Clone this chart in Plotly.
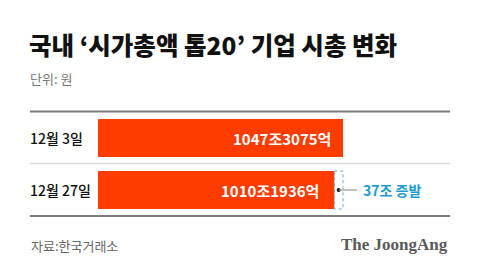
import plotly.graph_objects as go

categories = ["12월 3일", "12월 27일"]
values = [1047.3075, 1010.1936]
value_labels = ["1047조3075억", "1010조1936억"]
change_label = "37조 증발"
title_text = "국내 ‘시가총액 톱20’ 기업 시총 변화"
unit_text = "단위: 원"
source_text = "자료:한국거래소"
brand_text = "The JoongAng"

W, H = 480, 271
KR = "Noto Sans CJK KR"
BAR = "#FF3C00"

x0_px = 98.0
scale = (343.0 - 98.0) / values[0]
xr = [-x0_px / scale, (W - x0_px) / scale]
ppu = 52.0
ytop = -138.0 / ppu
yr = [ytop + H / ppu, ytop]
bw = 38.0 / ppu
label_pad_px = [10, 13]

fig = go.Figure()
fig.add_trace(go.Bar(
    x=values, y=[0, 1], orientation="h", width=bw,
    marker=dict(color=BAR, line=dict(width=0)),
    hoverinfo="skip",
))

def px(xp):
    return xp / W

def py(yp):
    return 1 - yp / H

shapes = []
shapes.append(dict(type="line", xref="paper", yref="paper", x0=px(30), x1=px(450), y0=py(111.5), y1=py(111.5), line=dict(color="#7a7a7a", width=2)))
shapes.append(dict(type="line", xref="paper", yref="paper", x0=px(30), x1=px(450), y0=py(163.5), y1=py(163.5), line=dict(color="#dcdcdc", width=1.5)))
shapes.append(dict(type="line", xref="paper", yref="paper", x0=px(30), x1=px(450), y0=py(216), y1=py(216), line=dict(color="#7a7a7a", width=2)))
shapes.append(dict(type="rect", xref="x", yref="y", x0=values[1], x1=values[0], y0=1 - bw / 2, y1=1 + bw / 2,
                   line=dict(color="#5aaad6", width=1, dash="dot"), fillcolor="rgba(0,0,0,0)"))
shapes.append(dict(type="line", xref="x", yref="y", x0=(values[0] + values[1]) / 2, x1=values[0] + 14 / scale, y0=1, y1=1,
                   line=dict(color="#9a9a9a", width=1.2)))
fig.update_layout(shapes=shapes)

fig.add_trace(go.Scatter(x=[(values[0] + values[1]) / 2], y=[1], mode="markers",
                         marker=dict(color="#111111", size=4), hoverinfo="skip", cliponaxis=False))

ann = []
for i, (v, t) in enumerate(zip(values, value_labels)):
    ann.append(dict(x=v - label_pad_px[i] / scale, y=i, xref="x", yref="y", text=t, showarrow=False,
                    xanchor="right", yanchor="middle",
                    font=dict(family=KR, size=15, color="white", weight="bold")))
ann.append(dict(x=values[0] + 18 / scale, y=1, xref="x", yref="y", text=change_label, showarrow=False,
                xanchor="left", yanchor="middle", font=dict(family=KR, size=14, color="#1C9BCF", weight="bold")))
for i, c in enumerate(categories):
    ann.append(dict(x=px(28), y=i, xref="paper", yref="y", text=c, showarrow=False, xanchor="left", yanchor="middle",
                    font=dict(family=KR, size=14, color="#111111", weight=500)))
ann.append(dict(x=px(27), y=py(45), xref="paper", yref="paper", text=title_text, showarrow=False,
                xanchor="left", yanchor="middle", font=dict(family=KR, size=24.5, color="#111111", weight=900)))
ann.append(dict(x=px(28), y=py(78), xref="paper", yref="paper", text=unit_text, showarrow=False,
                xanchor="left", yanchor="middle", font=dict(family=KR, size=13, color="#777777")))
ann.append(dict(x=px(29), y=py(245), xref="paper", yref="paper", text=source_text, showarrow=False,
                xanchor="left", yanchor="middle", font=dict(family=KR, size=13, color="#666666")))
ann.append(dict(x=px(450), y=py(244), xref="paper", yref="paper", text=brand_text, showarrow=False,
                xanchor="right", yanchor="middle", font=dict(family="Liberation Serif", size=17, color="#5a5a5a", weight="bold")))
fig.update_layout(annotations=ann)

fig.update_layout(
    width=W, height=H, margin=dict(l=0, r=0, t=0, b=0),
    paper_bgcolor="white", plot_bgcolor="white", showlegend=False,
    xaxis=dict(range=xr, visible=False, fixedrange=True),
    yaxis=dict(range=yr, visible=False, fixedrange=True),
)
fig.write_html("out.html", config={"displayModeBar": False})
